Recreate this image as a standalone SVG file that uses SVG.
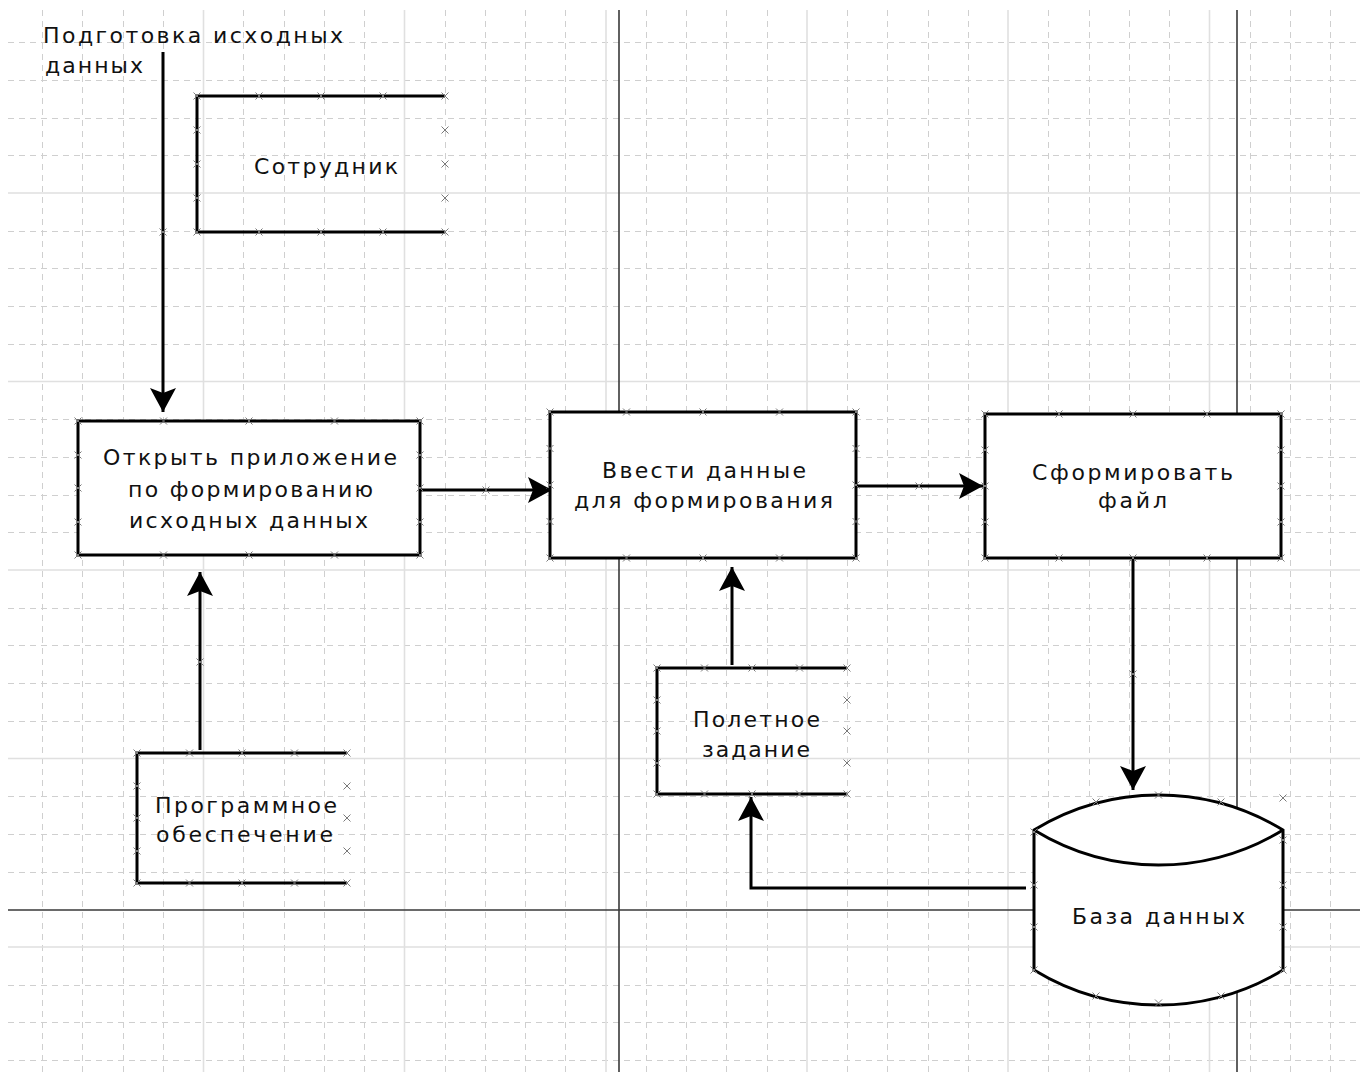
<svg xmlns="http://www.w3.org/2000/svg" xmlns:xlink="http://www.w3.org/1999/xlink" width="1360" height="1072" viewBox="0 0 1360 1072">
<style>
.gd{stroke:#cfcfcf;stroke-width:1;stroke-dasharray:6 5;fill:none}
.gm{stroke:#e0e0e0;stroke-width:1.6;fill:none}
.lane{stroke:#3a3a3a;stroke-width:1.6;fill:none}
.box{fill:#fff;stroke:#000;stroke-width:3}
.open{fill:none;stroke:#000;stroke-width:3}
.con{fill:none;stroke:#000;stroke-width:3;marker-end:url(#ah)}
.t{font-family:"DejaVu Sans","Liberation Sans",sans-serif;font-size:22px;fill:#111}
.mk{stroke:#7a7a7a;stroke-width:1;fill:none}
</style>
<defs>
<marker id="ah" markerUnits="userSpaceOnUse" viewBox="-1 -14 27 28" refX="24" refY="0" markerWidth="27" markerHeight="28" orient="auto">
<path d="M0,-13 L24,0 L0,13 L5,0 Z" fill="#000"/>
</marker>
<path id="x" class="mk" d="M-3.5,-3.5 L3.5,3.5 M-3.5,3.5 L3.5,-3.5"/>
</defs>
<rect width="1360" height="1072" fill="#fff"/>
<g id="grid">
<path class="gd" d="M42.5,10V1072M82.5,10V1072M123.5,10V1072M163.5,10V1072M243.5,10V1072M284.5,10V1072M324.5,10V1072M364.5,10V1072M445.5,10V1072M485.5,10V1072M525.5,10V1072M565.5,10V1072M646.5,10V1072M686.5,10V1072M726.5,10V1072M767.5,10V1072M847.5,10V1072M887.5,10V1072M928.5,10V1072M968.5,10V1072M1048.5,10V1072M1089.5,10V1072M1129.5,10V1072M1169.5,10V1072M1250.5,10V1072M1290.5,10V1072M1330.5,10V1072"/>
<path class="gd" d="M8,42.5H1360M8,80.5H1360M8,118.5H1360M8,155.5H1360M8,231.5H1360M8,268.5H1360M8,306.5H1360M8,344.5H1360M8,419.5H1360M8,457.5H1360M8,495.5H1360M8,532.5H1360M8,608.5H1360M8,645.5H1360M8,683.5H1360M8,721.5H1360M8,796.5H1360M8,834.5H1360M8,872.5H1360M8,985.5H1360M8,1022.5H1360M8,1060.5H1360"/>
<path class="gm" d="M203.5,10V1072M404.5,10V1072M606,10V1072M807,10V1072M1008,10V1072M1209.5,10V1072M8,193H1360M8,381.5H1360M8,570H1360M8,758.5H1360M8,947H1360"/>
<path class="lane" d="M619,10V1072M1237,10V1072M8,910H1360"/>
</g>
<g id="connectors">
<path class="con" d="M163,52V412"/>
<path class="con" d="M200,750V572"/>
<path class="con" d="M420,490H552"/>
<path class="con" d="M856,486H983"/>
<path class="con" d="M732,665V567"/>
<path class="con" d="M1133,558V790"/>
<path class="con" d="M1026,888H751V797"/>
</g>
<g id="label-start">
<text class="t" x="43" y="43" textLength="300" lengthAdjust="spacing">Подготовка исходных</text>
<text class="t" x="45" y="73" textLength="98" lengthAdjust="spacing">данных</text>
</g>
<g id="node-sotrudnik">
<path class="open" d="M445,96H197V232H445"/>
<text class="t" x="254" y="174" textLength="144" lengthAdjust="spacing">Сотрудник</text>
</g>
<g id="node-open-app">
<rect class="box" x="78" y="421" width="342" height="134"/>
<text class="t" x="103" y="465" textLength="294" lengthAdjust="spacing">Открыть приложение</text>
<text class="t" x="128" y="497" textLength="245" lengthAdjust="spacing">по формированию</text>
<text class="t" x="129" y="528" textLength="239" lengthAdjust="spacing">исходных данных</text>
</g>
<g id="node-enter-data">
<rect class="box" x="550" y="412" width="306" height="146"/>
<text class="t" x="602" y="478" textLength="204" lengthAdjust="spacing">Ввести данные</text>
<text class="t" x="574" y="508" textLength="259" lengthAdjust="spacing">для формирования</text>
</g>
<g id="node-make-file">
<rect class="box" x="985" y="414" width="296" height="144"/>
<text class="t" x="1032" y="480" textLength="201" lengthAdjust="spacing">Сформировать</text>
<text class="t" x="1098" y="508" textLength="69" lengthAdjust="spacing">файл</text>
</g>
<g id="node-software">
<path class="open" d="M347,753H137V883H347"/>
<text class="t" x="155" y="813" textLength="182" lengthAdjust="spacing">Программное</text>
<text class="t" x="156" y="842" textLength="177" lengthAdjust="spacing">обеспечение</text>
</g>
<g id="node-flight-task">
<path class="open" d="M847,668H657V794H847"/>
<text class="t" x="693" y="727" textLength="127" lengthAdjust="spacing">Полетное</text>
<text class="t" x="702" y="757" textLength="108" lengthAdjust="spacing">задание</text>
</g>
<g id="node-database">
<path class="box" d="M1034,830A239,239 0 0 1 1283,830V970A239,239 0 0 1 1034,970Z"/>
<path class="open" d="M1034,830A239,239 0 0 0 1283,830"/>
<text class="t" x="1072" y="924" textLength="173" lengthAdjust="spacing">База данных</text>
</g>
<g id="points">
<use xlink:href="#x" x="197" y="96"/><use xlink:href="#x" x="259" y="96"/><use xlink:href="#x" x="321" y="96"/><use xlink:href="#x" x="383" y="96"/><use xlink:href="#x" x="445" y="96"/>
<use xlink:href="#x" x="197" y="232"/><use xlink:href="#x" x="259" y="232"/><use xlink:href="#x" x="321" y="232"/><use xlink:href="#x" x="383" y="232"/><use xlink:href="#x" x="445" y="232"/>
<use xlink:href="#x" x="197" y="130"/><use xlink:href="#x" x="197" y="164"/><use xlink:href="#x" x="197" y="198"/>
<use xlink:href="#x" x="445" y="130"/><use xlink:href="#x" x="445" y="164"/><use xlink:href="#x" x="445" y="198"/>
<use xlink:href="#x" x="78" y="421"/><use xlink:href="#x" x="163.5" y="421"/><use xlink:href="#x" x="249" y="421"/><use xlink:href="#x" x="334.5" y="421"/><use xlink:href="#x" x="420" y="421"/>
<use xlink:href="#x" x="78" y="555"/><use xlink:href="#x" x="163.5" y="555"/><use xlink:href="#x" x="249" y="555"/><use xlink:href="#x" x="334.5" y="555"/><use xlink:href="#x" x="420" y="555"/>
<use xlink:href="#x" x="78" y="455"/><use xlink:href="#x" x="78" y="488"/><use xlink:href="#x" x="78" y="522"/>
<use xlink:href="#x" x="420" y="455"/><use xlink:href="#x" x="420" y="488"/><use xlink:href="#x" x="420" y="522"/>
<use xlink:href="#x" x="550" y="412"/><use xlink:href="#x" x="626.5" y="412"/><use xlink:href="#x" x="703" y="412"/><use xlink:href="#x" x="779.5" y="412"/><use xlink:href="#x" x="856" y="412"/>
<use xlink:href="#x" x="550" y="558"/><use xlink:href="#x" x="626.5" y="558"/><use xlink:href="#x" x="703" y="558"/><use xlink:href="#x" x="779.5" y="558"/><use xlink:href="#x" x="856" y="558"/>
<use xlink:href="#x" x="550" y="448.5"/><use xlink:href="#x" x="550" y="485"/><use xlink:href="#x" x="550" y="521.5"/>
<use xlink:href="#x" x="856" y="448.5"/><use xlink:href="#x" x="856" y="485"/><use xlink:href="#x" x="856" y="521.5"/>
<use xlink:href="#x" x="985" y="414"/><use xlink:href="#x" x="1059" y="414"/><use xlink:href="#x" x="1133" y="414"/><use xlink:href="#x" x="1207" y="414"/><use xlink:href="#x" x="1281" y="414"/>
<use xlink:href="#x" x="985" y="558"/><use xlink:href="#x" x="1059" y="558"/><use xlink:href="#x" x="1133" y="558"/><use xlink:href="#x" x="1207" y="558"/><use xlink:href="#x" x="1281" y="558"/>
<use xlink:href="#x" x="985" y="450"/><use xlink:href="#x" x="985" y="486"/><use xlink:href="#x" x="985" y="522"/>
<use xlink:href="#x" x="1281" y="450"/><use xlink:href="#x" x="1281" y="486"/><use xlink:href="#x" x="1281" y="522"/>
<use xlink:href="#x" x="137" y="753"/><use xlink:href="#x" x="189.5" y="753"/><use xlink:href="#x" x="242" y="753"/><use xlink:href="#x" x="294.5" y="753"/><use xlink:href="#x" x="347" y="753"/>
<use xlink:href="#x" x="137" y="883"/><use xlink:href="#x" x="189.5" y="883"/><use xlink:href="#x" x="242" y="883"/><use xlink:href="#x" x="294.5" y="883"/><use xlink:href="#x" x="347" y="883"/>
<use xlink:href="#x" x="137" y="786"/><use xlink:href="#x" x="137" y="818"/><use xlink:href="#x" x="137" y="851"/>
<use xlink:href="#x" x="347" y="786"/><use xlink:href="#x" x="347" y="818"/><use xlink:href="#x" x="347" y="851"/>
<use xlink:href="#x" x="657" y="668"/><use xlink:href="#x" x="704.5" y="668"/><use xlink:href="#x" x="752" y="668"/><use xlink:href="#x" x="799.5" y="668"/><use xlink:href="#x" x="847" y="668"/>
<use xlink:href="#x" x="657" y="794"/><use xlink:href="#x" x="704.5" y="794"/><use xlink:href="#x" x="752" y="794"/><use xlink:href="#x" x="799.5" y="794"/><use xlink:href="#x" x="847" y="794"/>
<use xlink:href="#x" x="657" y="700"/><use xlink:href="#x" x="657" y="731"/><use xlink:href="#x" x="657" y="763"/>
<use xlink:href="#x" x="847" y="700"/><use xlink:href="#x" x="847" y="731"/><use xlink:href="#x" x="847" y="763"/>
<use xlink:href="#x" x="1096" y="802"/><use xlink:href="#x" x="1158.5" y="795"/><use xlink:href="#x" x="1221" y="802"/><use xlink:href="#x" x="1283" y="798"/>
<use xlink:href="#x" x="1096" y="996"/><use xlink:href="#x" x="1158.5" y="1003"/><use xlink:href="#x" x="1221" y="996"/>
<use xlink:href="#x" x="1034" y="832"/><use xlink:href="#x" x="1034" y="885"/><use xlink:href="#x" x="1034" y="927"/><use xlink:href="#x" x="1034" y="970"/>
<use xlink:href="#x" x="1283" y="840"/><use xlink:href="#x" x="1283" y="885"/><use xlink:href="#x" x="1283" y="927"/><use xlink:href="#x" x="1283" y="970"/>
<use xlink:href="#x" x="163" y="232"/><use xlink:href="#x" x="486" y="490"/><use xlink:href="#x" x="200" y="662"/><use xlink:href="#x" x="919" y="486"/><use xlink:href="#x" x="1133" y="674"/>
</g>
</svg>
